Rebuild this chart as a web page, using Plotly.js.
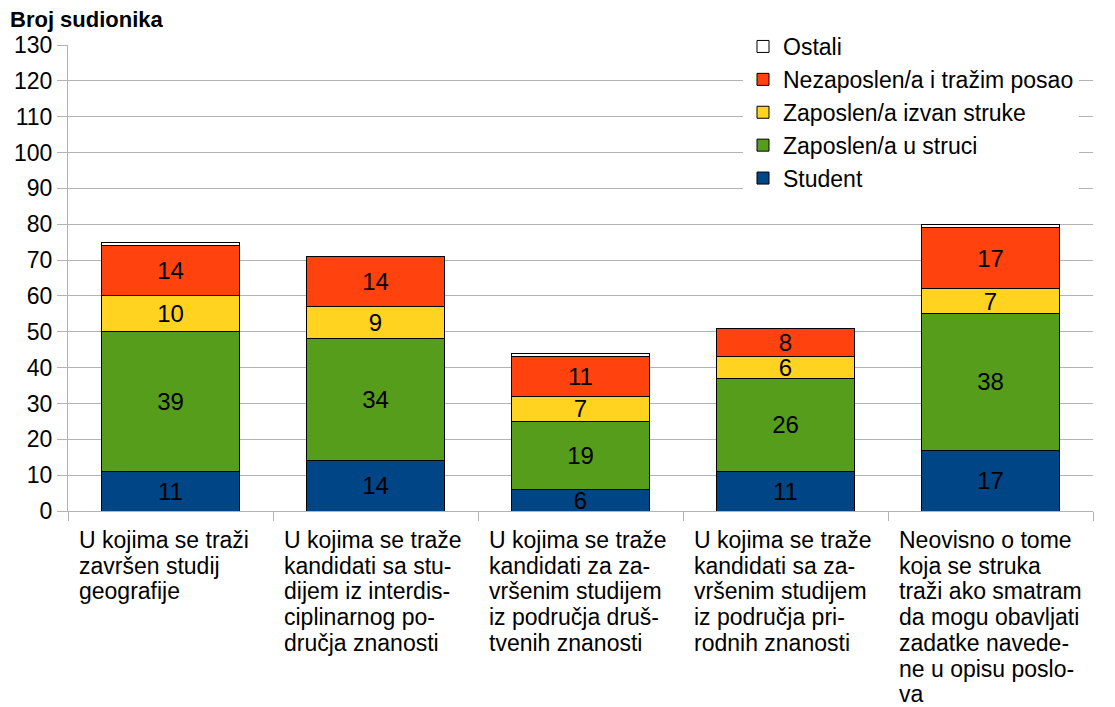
<!DOCTYPE html>
<html>
<head>
<meta charset="utf-8">
<script src="https://cdn.plot.ly/plotly-3.0.1.min.js"></script>
<style>
  body { margin: 0; background: #fff; }
  #graf { width: 1115px; height: 707px; }
</style>
</head>
<body>
<div id="graf"></div>
<script>
// kategorije oglasa (s rastavljanjem kao u originalu)
const kategorije = [
    "U kojima se traži<br>završen studij<br>geografije",
    "U kojima se traže<br>kandidati sa stu-<br>dijem iz interdis-<br>ciplinarnog po-<br>dručja znanosti",
    "U kojima se traže<br>kandidati za za-<br>vršenim studijem<br>iz područja druš-<br>tvenih znanosti",
    "U kojima se traže<br>kandidati sa za-<br>vršenim studijem<br>iz područja pri-<br>rodnih znanosti",
    "Neovisno o tome<br>koja se struka<br>traži ako smatram<br>da mogu obavljati<br>zadatke navede-<br>ne u opisu poslo-<br>va"
];
const kljucevi = ["k1", "k2", "k3", "k4", "k5"];

const student = [11, 14, 6, 11, 17];
const uStruci = [39, 34, 19, 26, 38];
const izvanStruke = [10, 9, 7, 6, 7];
const nezaposlen = [14, 14, 11, 8, 17];
const ostali = [1, 0, 1, 0, 1];

const yTickovi = [0, 10, 20, 30, 40, 50, 60, 70, 80, 90, 100, 110, 120, 130];

const fontBase = "Liberation Sans, Arial, sans-serif";

function serija(ime, vrijednosti, boja, oznake) {
    return {
        type: 'bar',
        name: ime,
        x: kljucevi,
        y: vrijednosti,
        marker: { color: boja, line: { color: '#000', width: 1 } },
        text: oznake ? vrijednosti.map(String) : null,
        textposition: oznake ? 'inside' : 'none',
        insidetextanchor: 'middle',
        textangle: 0,
        constraintext: 'none',
        textfont: { family: fontBase, size: 24, color: '#000' },
        hoverinfo: 'name+y'
    };
}

const trazas = [
    serija('Student', student, '#004586', true),
    serija('Zaposlen/a u struci', uStruci, '#579d1c', true),
    serija('Zaposlen/a izvan struke', izvanStruke, '#ffd320', true),
    serija('Nezaposlen/a i tražim posao', nezaposlen, '#ff420e', true),
    serija('Ostali', ostali, '#ffffff', false)
];

// natpisi kategorija poravnati lijevo, red po red (gusti prored kao u originalu)
const natpisi = [];
kategorije.forEach((t, i) => {
    t.split('<br>').forEach((red, k) => {
        natpisi.push({
            text: red,
            xref: 'x',
            yref: 'paper',
            x: i - 0.5,
            y: 0,
            xanchor: 'left',
            yanchor: 'top',
            xshift: 9,
            yshift: -14 - 25.7 * k,
            align: 'left',
            showarrow: false,
            font: { family: fontBase, size: 23, color: '#000' }
        });
    });
});

const layout = {
    barmode: 'stack',
    bargap: 0.33,
    width: 1115,
    height: 707,
    margin: { l: 68, r: 22, t: 45, b: 196, autoexpand: false },
    paper_bgcolor: '#fff',
    plot_bgcolor: '#fff',
    font: { family: fontBase, color: '#000' },
    title: {
        text: '<b>Broj sudionika</b>',
        font: { family: fontBase, size: 22, color: '#000' },
        x: 10 / 1115,
        xanchor: 'left',
        xref: 'container',
        yref: 'container',
        y: 1 - 19 / 707,
        yanchor: 'middle'
    },
    xaxis: {
        type: 'category',
        showticklabels: false,
        tickson: 'boundaries',
        ticks: 'outside',
        ticklen: 9,
        tickcolor: '#b3b3b3',
        showgrid: false,
        showline: true,
        linecolor: '#b3b3b3',
        zeroline: false
    },
    yaxis: {
        range: [0, 130],
        tickvals: yTickovi,
        ticks: 'outside',
        ticklen: 10,
        tickcolor: '#b3b3b3',
        gridcolor: '#b3b3b3',
        showline: true,
        linecolor: '#b3b3b3',
        zeroline: false,
        tickfont: { family: fontBase, size: 23, color: '#000' }
    },
    legend: {
        x: 743 / 1115,
        xref: 'container',
        y: 1 - 25 / 707,
        yref: 'container',
        xanchor: 'left',
        yanchor: 'top',
        bgcolor: '#fff',
        traceorder: 'reversed',
        font: { family: fontBase, size: 23, color: '#000' },
        itemwidth: 30
    },
    annotations: natpisi,
    showlegend: true
};

Plotly.newPlot('graf', trazas, layout, { displayModeBar: false, staticPlot: true });
</script>
</body>
</html>
